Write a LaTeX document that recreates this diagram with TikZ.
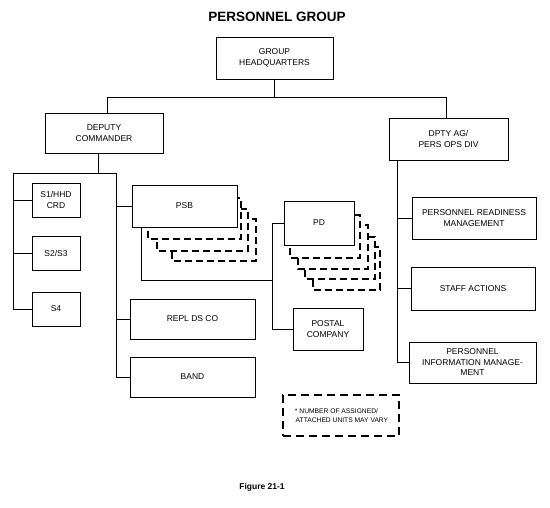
\documentclass[tikz,border=0pt]{standalone}
\usepackage{fontspec}
\setmainfont{Liberation Sans}
\begin{document}
\begin{tikzpicture}[x=1pt,y=-1pt,
  box/.style={draw, line width=0.9pt, fill=white, inner sep=0pt, align=center,
    font=\fontsize{8.5}{10.5}\selectfont},
  wh/.style 2 args={minimum width=#1pt, minimum height=#2pt},
  shadowbox/.style={draw, dash pattern=on 7pt off 4pt, line width=1.3pt, fill=white},
  notebox/.style={draw, dash pattern=on 8pt off 5pt, line width=1.3pt, inner sep=0pt,
    align=left, font=\fontsize{6.7}{9}\selectfont},
  conn/.style={line width=0.9pt}]
\useasboundingbox (0,0) rectangle (550,508);

% title and caption
\node[font=\bfseries\fontsize{13.5}{16}\selectfont] (title) at (277,17) {PERSONNEL GROUP};
\node[font=\bfseries\fontsize{8.5}{10}\selectfont] (fig) at (262,487) {Figure 21-1};

% dashed shadows behind PSB
\draw[shadowbox] (172,219) rectangle (256,261);
\draw[shadowbox] (157,209) rectangle (248,251);
\draw[shadowbox] (148,198) rectangle (241,239);
% dashed shadows behind PD
\draw[shadowbox] (313,247) rectangle (380,290);
\draw[shadowbox] (305,237) rectangle (375,279);
\draw[shadowbox] (298,225) rectangle (368,269);
\draw[shadowbox] (290,215) rectangle (360,258);

% boxes
\node[box, wh={117}{42}] (hq) at (274.5,58) {GROUP\\HEADQUARTERS};
\node[box, wh={118}{40}] (dep) at (104,133) {DEPUTY\\COMMANDER};
\node[box, wh={119}{42}] (dpty) at (448.5,139) {DPTY AG/\\PERS OPS DIV};

\node[box, wh={48}{34}] (s1) at (56,200) {S1/HHD\\CRD};
\node[box, wh={48}{34}] (s2) at (56,253) {S2/S3};
\node[box, wh={48}{34}] (s4) at (56,309) {S4};

\node[box, wh={105}{42}] (psb) at (184.5,206) {PSB};
\node[box, wh={125}{40}] (repl) at (192.5,319) {REPL DS CO};
\node[box, wh={125}{40}] (band) at (192.5,377) {BAND};

\node[box, wh={70}{44}] (pd) at (319,223) {PD};
\node[box, wh={70}{42}] (postal) at (328,329) {POSTAL\\COMPANY};

\node[box, wh={124}{42}] (prm) at (474,218) {PERSONNEL READINESS\\MANAGEMENT};
\node[box, wh={124}{43}] (staff) at (473,288.5) {STAFF ACTIONS};
\node[box, wh={127}{41}] (pim) at (472.5,362.5) {PERSONNEL\\INFORMATION MANAGE-\\MENT};

\node[notebox, wh={116}{41}] (note) at (341,415.5) {\,* NUMBER OF ASSIGNED/\\ \ ATTACHED UNITS MAY VARY};

% connectors
\draw[conn] (hq.south) -- ++(0,18) coordinate (hqj);
\draw[conn] ([xshift=3pt]dep.north) |- (hqj) -| ([xshift=-2.5pt]dpty.north);

\draw[conn] ([xshift=-6pt]dep.south) -- ++(0,20) coordinate (dj);
\draw[conn] (s4.west) -- ++(-18,0) |- (dj);
\draw[conn] (s1.west) -- ++(-18,0);
\draw[conn] (s2.west) -- ++(-18,0);
\draw[conn] (dj) -- ++(18,0) |- (band.west);
\draw[conn] (psb.west) -- ++(-16,0);
\draw[conn] (repl.west) -- ++(-14,0);

\draw[conn] (pd.west) -- ++(-11,0) coordinate (pj) |- (postal.west);
\draw[conn] ([xshift=-43.5pt]psb.south) |- ([yshift=-57pt]pj);

\draw[conn] ([xshift=-51.5pt]dpty.south) |- (pim.west);
\draw[conn] (prm.west) -- ++(-15,0);
\draw[conn] (staff.west) -- ++(-14,0);
\end{tikzpicture}
\end{document}
